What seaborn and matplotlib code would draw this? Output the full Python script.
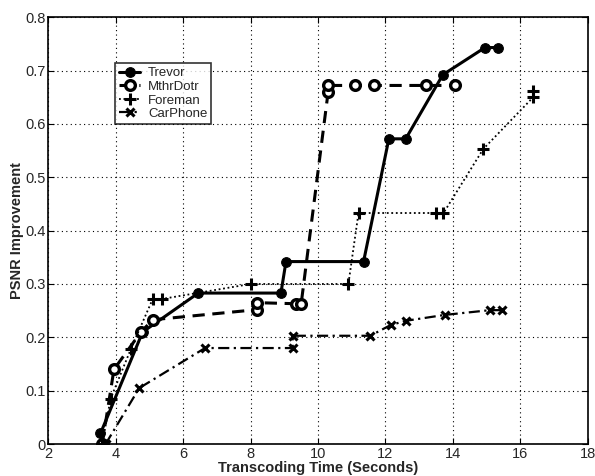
import numpy as np
import pandas as pd
import matplotlib
matplotlib.use("Agg")
import matplotlib.pyplot as plt
import seaborn as sns

# Data
trevor_x = [3.65, 3.55, 4.8, 6.45, 8.9, 9.05, 11.35, 12.1, 12.6, 13.7, 14.95, 15.35]
trevor_y = [0.0, 0.02, 0.21, 0.283, 0.283, 0.342, 0.342, 0.572, 0.572, 0.692, 0.743, 0.743]

mthr_x = [3.6, 3.95, 4.75, 5.1, 8.2, 8.2, 9.35, 9.5, 10.3, 10.3, 11.1, 11.65, 13.2, 14.05]
mthr_y = [0.0, 0.14, 0.21, 0.233, 0.252, 0.265, 0.263, 0.263, 0.66, 0.672, 0.672, 0.672, 0.672, 0.672]

foreman_x = [3.6, 3.85, 4.45, 5.1, 5.38, 8.0, 10.9, 11.2, 13.5, 13.72, 14.9, 16.38, 16.38]
foreman_y = [0.0, 0.085, 0.178, 0.272, 0.272, 0.30, 0.30, 0.433, 0.433, 0.433, 0.553, 0.65, 0.662]

carphone_x = [3.7, 4.7, 6.65, 9.25, 9.25, 11.55, 12.15, 12.6, 13.75, 15.1, 15.45]
carphone_y = [0.0, 0.105, 0.18, 0.18, 0.203, 0.203, 0.223, 0.231, 0.242, 0.251, 0.251]

series_names = ["Trevor", "MthrDotr", "Foreman", "CarPhone"]
x_ticks = [2, 4, 6, 8, 10, 12, 14, 16, 18]
y_ticks = [0, 0.1, 0.2, 0.3, 0.4, 0.5, 0.6, 0.7, 0.8]
y_tick_labels = ["0", "0.1", "0.2", "0.3", "0.4", "0.5", "0.6", "0.7", "0.8"]

sns.set_style("white")
plt.rcParams['font.family'] = ['Liberation Sans', 'DejaVu Sans']

fig = plt.figure(figsize=(5.95, 4.76), dpi=100)
ax = fig.add_axes([0.081, 0.067, 0.907, 0.897])

styles = {
    "Trevor": dict(linestyle="-", linewidth=2.2, marker="o", markersize=7,
                   markerfacecolor="black", markeredgecolor="black"),
    "MthrDotr": dict(linestyle=(0, (4, 2.5)), linewidth=2.2, marker="o", markersize=7,
                     markerfacecolor="white", markeredgecolor="black", markeredgewidth=2.4),
    "Foreman": dict(linestyle=(0, (1, 1.5)), linewidth=1.3, marker="+", markersize=9,
                    markeredgewidth=2.2, markeredgecolor="black"),
    "CarPhone": dict(linestyle=(0, (5, 2, 1, 2)), linewidth=1.6, marker="x", markersize=6,
                     markeredgewidth=2.2, markeredgecolor="black"),
}
data = {
    "Trevor": (trevor_x, trevor_y),
    "MthrDotr": (mthr_x, mthr_y),
    "Foreman": (foreman_x, foreman_y),
    "CarPhone": (carphone_x, carphone_y),
}

for name in series_names:
    xs, ys = data[name]
    df = pd.DataFrame({"x": xs, "y": ys})
    sns.lineplot(data=df, x="x", y="y", sort=False, estimator=None, ax=ax,
                 color="black", label=name, **styles[name])

ax.set_xlim(2, 18)
ax.set_ylim(0, 0.8)
ax.set_xticks(x_ticks)
ax.set_yticks(y_ticks)
ax.set_yticklabels(y_tick_labels)
ax.grid(True, color="black", linestyle=(0, (1, 3)), linewidth=0.8)
ax.tick_params(direction="in", length=4, labelsize=10.5, color="black", pad=2,
               top=True, right=True, bottom=True, left=True)
for s in ax.spines.values():
    s.set_color("black")
    s.set_linewidth(1.2)
    s.set_visible(True)

ax.set_xlabel("Transcoding Time (Seconds)", fontsize=10.5, fontweight="bold", labelpad=0)
ax.set_ylabel("PSNR Improvement", fontsize=10.5, fontweight="bold", labelpad=1)

leg = ax.legend(loc="upper left", bbox_to_anchor=(0.124, 0.892), frameon=True,
                fancybox=False, edgecolor="black", fontsize=9.5, handlelength=1.6,
                borderpad=0.3, labelspacing=0.1, handletextpad=0.6, borderaxespad=0)
leg.get_frame().set_linewidth(1.2)

fig.savefig("out.png", dpi=100)
